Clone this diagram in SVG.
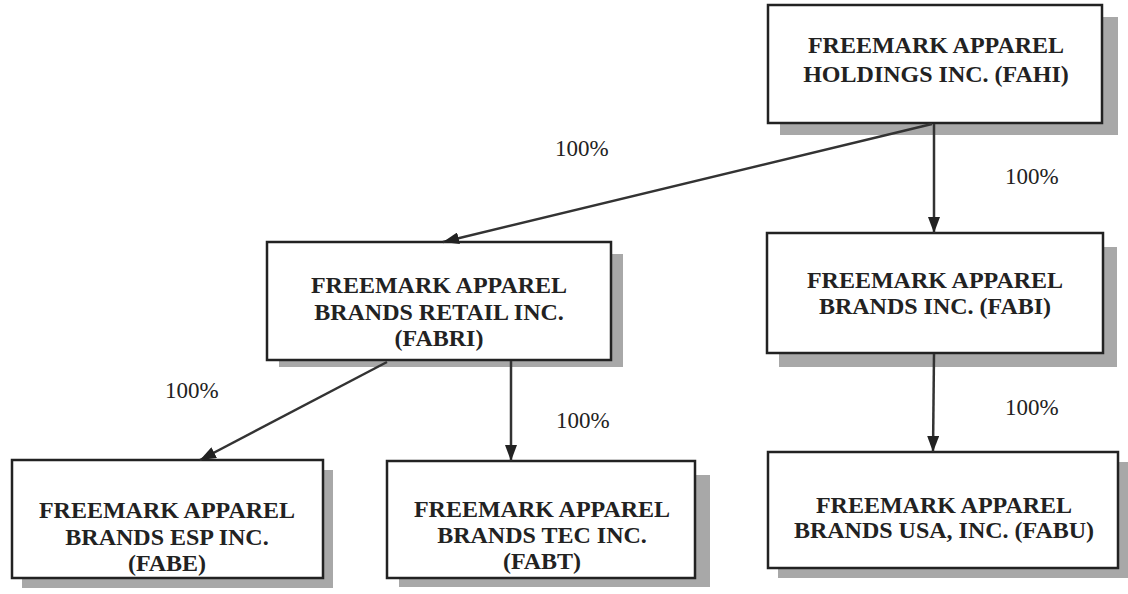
<svg xmlns="http://www.w3.org/2000/svg" width="1128" height="594" viewBox="0 0 1128 594">
<defs>
<style>
.box{fill:#fff;stroke:#222;stroke-width:2.5}
.shadow{fill:#a8a8a8}
.t{font-family:"Liberation Serif","Times New Roman",serif;font-weight:bold;font-size:24px;fill:#222;text-anchor:middle}
.lbl{font-family:"Liberation Serif","Times New Roman",serif;font-size:23px;fill:#222}
.conn{stroke:#333;stroke-width:2.5;fill:none;marker-end:url(#arr)}
</style>
<marker id="arr" viewBox="0 0 16 12" refX="16" refY="6" markerWidth="16" markerHeight="12" markerUnits="userSpaceOnUse" orient="auto">
<path d="M0,0 L16,6 L0,12 Z" fill="#222"/>
</marker>
</defs>
<rect width="1128" height="594" fill="#fff"/>

<g id="fahi">
<rect class="shadow" x="780" y="17" width="338" height="118"/>
<rect class="box" x="768" y="5" width="334" height="118"/>
<text class="t" x="936" y="53">FREEMARK APPAREL</text>
<text class="t" x="936" y="82">HOLDINGS INC. (FAHI)</text>
</g>

<g id="fabri">
<rect class="shadow" x="279" y="254" width="344" height="113"/>
<rect class="box" x="267" y="242" width="344" height="118"/>
<text class="t" x="439" y="293">FREEMARK APPAREL</text>
<text class="t" x="439" y="320">BRANDS RETAIL INC.</text>
<text class="t" x="439" y="346">(FABRI)</text>
</g>

<g id="fabi">
<rect class="shadow" x="779" y="247" width="338" height="120"/>
<rect class="box" x="767" y="233" width="336" height="120"/>
<text class="t" x="935" y="288">FREEMARK APPAREL</text>
<text class="t" x="935" y="314">BRANDS INC. (FABI)</text>
</g>

<g id="fabe">
<rect class="shadow" x="22" y="470" width="311" height="118"/>
<rect class="box" x="12" y="460" width="311" height="118"/>
<text class="t" x="167" y="518">FREEMARK APPAREL</text>
<text class="t" x="167" y="545">BRANDS ESP INC.</text>
<text class="t" x="167" y="571">(FABE)</text>
</g>

<g id="fabt">
<rect class="shadow" x="399" y="475" width="311" height="112"/>
<rect class="box" x="387" y="461" width="308" height="117"/>
<text class="t" x="542" y="517">FREEMARK APPAREL</text>
<text class="t" x="542" y="543">BRANDS TEC INC.</text>
<text class="t" x="542" y="569">(FABT)</text>
</g>

<g id="fabu">
<rect class="shadow" x="778" y="462" width="350" height="116"/>
<rect class="box" x="768" y="452" width="350" height="116"/>
<text class="t" x="944" y="513">FREEMARK APPAREL</text>
<text class="t" x="944" y="538">BRANDS USA, INC. (FABU)</text>
</g>

<g id="connectors">
<path class="conn" d="M932,124 L443,242"/>
<path class="conn" d="M934,124 L934,233"/>
<path class="conn" d="M387,362 L200,460"/>
<path class="conn" d="M511,361 L511,461"/>
<path class="conn" d="M934,354 L933,452"/>
</g>

<g id="labels">
<text class="lbl" x="555" y="156">100%</text>
<text class="lbl" x="1005" y="184">100%</text>
<text class="lbl" x="165" y="398">100%</text>
<text class="lbl" x="556" y="428">100%</text>
<text class="lbl" x="1005" y="415">100%</text>
</g>
</svg>
